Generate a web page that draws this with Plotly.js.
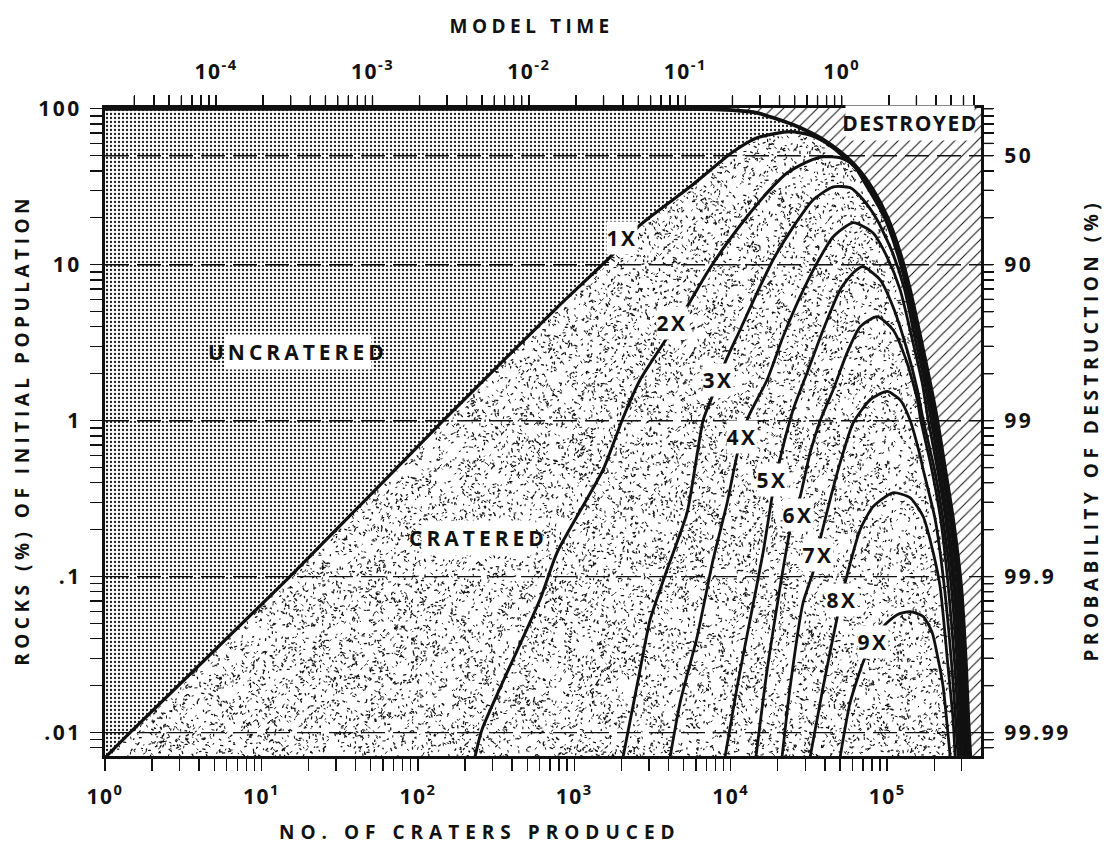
<!DOCTYPE html>
<html>
<head>
<meta charset="utf-8">
<script src="https://cdn.plot.ly/plotly-3.0.1.min.js"></script>
<style>
  html, body { margin: 0; padding: 0; background: #fff; }
  #chart { width: 1109px; height: 846px; }
  #chart .annotation-text { letter-spacing: 2.5px; }
  #chart .annotation[data-index="9"] .annotation-text,
  #chart .annotation[data-index="10"] .annotation-text { letter-spacing: 4px; }
  #chart .annotation[data-index="11"] .annotation-text { letter-spacing: 1.5px; }
  #chart .annotation[data-index="12"] .annotation-text,
  #chart .annotation[data-index="14"] .annotation-text,
  #chart .annotation[data-index="15"] .annotation-text { letter-spacing: 4.5px; }
  #chart .annotation[data-index="13"] .annotation-text { letter-spacing: 6px; }
  #chart .xtick text, #chart .x2tick text { letter-spacing: 1.5px; }
  #chart .ytick text, #chart .y2tick text { letter-spacing: 2.5px; }
</style>
</head>
<body>
<div id="chart"></div>
<script>
// Rocks surviving (% of initial population) vs number of craters produced.
// Top curve: surviving rocks. Curves 1X..9X: rocks carrying at least that many craters.

const survN   = [1, 3000, 7000, 10200, 14750, 18700, 25100, 30800, 39000, 50100, 64300, 81300,
                 100000, 121000, 140000, 163000, 188000, 209000, 235000, 264000, 297000, 320000, 330000, 340000];
const survPct = [100, 99.9, 99.5, 98, 94.2, 87.5, 78.9, 72, 63.5, 53.0, 41.9, 30.3,
                 20.3, 11.9, 6.92, 3.45, 1.75, 1.01, 0.485, 0.232, 0.0863, 0.0254, 0.0121, 0.0070];

const c1N   = [1.0, 1.445, 15.2, 145, 811, 1694, 2637, 5500, 10350, 14750, 24000, 32000, 39000, 45200,
               49000, 62900, 79600, 97800, 118000, 137000, 159000, 184000, 204000, 230000, 258000, 291000,
               313000, 323000, 333000];
const c1Pct = [0.0069, 0.01, 0.1, 1.0, 5.55, 11.2, 18.0, 31.6, 53, 65.2, 71.3, 68, 62, 56,
               52.5, 41.9, 30.3, 20.3, 11.9, 6.92, 3.45, 1.75, 1.01, 0.485, 0.232, 0.0863,
               0.0254, 0.0121, 0.0070];

const c2N   = [232, 257, 604, 776, 1528, 2051, 2637, 3920, 5260, 7060, 9490, 12700, 17100, 23000,
               30800, 39000, 50100, 60700, 71300, 95700, 116000, 134000, 156000, 180000, 198000,
               225000, 253000, 284000, 306000, 318000, 327000];
const c2Pct = [0.0070, 0.01045, 0.0713, 0.1426, 0.485, 1.045, 1.83, 3.40, 5.38, 8.89, 13.8, 20.3, 29.0, 38.9,
               45.7, 49.2, 48.5, 43.8, 34.0, 20.3, 11.9, 6.92, 3.45, 1.75, 1.01,
               0.485, 0.232, 0.0863, 0.0254, 0.0121, 0.0070];

const c3N   = [2051, 2637, 3053, 3920, 5260, 6670, 7710, 9200, 11490, 14750, 18700, 25100, 33700,
               45200, 58000, 70300, 86300, 108400, 129400, 150000, 174000, 191000, 217000, 244000,
               274000, 297000, 308000, 320000];
const c3Pct = [0.0070, 0.0254, 0.053, 0.111, 0.257, 1.01, 1.47, 2.36, 3.83, 6.62, 10.8, 17.5, 26.1,
               31.6, 31.2, 26.1, 19.4, 11.9, 6.92, 3.45, 1.75, 1.01, 0.485, 0.232,
               0.0863, 0.0254, 0.0121, 0.0070];

const c4N   = [4100, 4750, 6100, 7710, 9490, 10990, 12900, 17100, 21600, 27800, 35700, 45200, 60700,
               81300, 100000, 121000, 143500, 167500, 183000, 210000, 237000, 266000, 291000, 301000, 311000];
const c4Pct = [0.0070, 0.0156, 0.0412, 0.128, 0.298, 0.605, 1.045, 1.83, 3.45, 6.24, 10.3, 15.1, 18.6,
               16.0, 11.2, 6.92, 3.45, 1.75, 1.01, 0.485, 0.232, 0.0863, 0.0254, 0.0121, 0.0070];

const c5N   = [9200, 10990, 13300, 16100, 18400, 20400, 25100, 30800, 39000, 50100, 60700, 70300,
               90200, 109000, 134000, 156000, 170000, 201000, 228000, 257000, 282000, 293000, 301000];
const c5Pct = [0.0070, 0.0197, 0.053, 0.1426, 0.326, 0.538, 1.18, 2.03, 3.83, 6.92, 8.89, 9.71,
               8.0, 5.38, 2.85, 1.58, 1.01, 0.485, 0.232, 0.0863, 0.0254, 0.0121, 0.0070];

const c6N   = [14500, 17100, 20700, 24000, 27800, 32200, 37300, 45200, 55500, 67200, 86300, 109000,
               134000, 156000, 164000, 193000, 220000, 246000, 272000, 284000, 293000];
const c6Pct = [0.0070, 0.0254, 0.0863, 0.2, 0.326, 0.624, 1.0, 1.58, 2.73, 4.0, 4.65, 3.83,
               2.36, 1.36, 1.01, 0.485, 0.232, 0.0863, 0.0254, 0.0121, 0.0070];

const c7N   = [21300, 24000, 29000, 33700, 37300, 43200, 50100, 60700, 77800, 100000, 121000, 140000,
               163000, 170000, 203000, 232000, 260000, 274000, 284000];
const c7Pct = [0.0070, 0.0197, 0.068, 0.1077, 0.173, 0.312, 0.538, 0.97, 1.36, 1.54, 1.36, 1.01,
               0.587, 0.485, 0.232, 0.0863, 0.0254, 0.0121, 0.0070];

const c8N   = [32200, 39000, 47900, 53900, 67200, 81300, 109000, 140000, 170000, 197000, 218000,
               246000, 264000, 272000];
const c8Pct = [0.0070, 0.0197, 0.0546, 0.0916, 0.2, 0.281, 0.345, 0.321, 0.243, 0.1426, 0.0863,
               0.0254, 0.0121, 0.0070];

const c9N   = [50100, 58000, 72300, 97000, 116000, 140000, 170000, 194000, 212000, 228000, 246000, 253000];
const c9Pct = [0.0070, 0.0156, 0.0303, 0.0492, 0.057, 0.0597, 0.0555, 0.0438, 0.0294, 0.0197, 0.0094, 0.0070];

// Curve labels and region labels
const curveLabels   = ['1X', '2X', '3X', '4X', '5X', '6X', '7X', '8X', '9X'];
const curveLabelN   = [2020, 4220, 8300, 11800, 18400, 27000, 36200, 51500, 81300];
const curveLabelPct = [14.9, 4.25, 1.83, 0.789, 0.419, 0.25, 0.138, 0.0713, 0.0383];

const regionLabels   = ['UNCRATERED', 'CRATERED', 'DESTROYED'];
const regionLabelN   = [17.1, 243, 140000];
const regionLabelPct = [2.77, 0.178, 81];

// Axis ticks
const craterTicks     = [1, 10, 100, 1000, 1e4, 1e5];
const craterTickText  = ['10<sup>0</sup>', '10<sup>1</sup>', '10<sup>2</sup>', '10<sup>3</sup>', '10<sup>4</sup>', '10<sup>5</sup>'];
const timeTicks       = [1e-4, 1e-3, 1e-2, 1e-1, 1];
const timeTickText    = ['10<sup>-4</sup>', '10<sup>-3</sup>', '10<sup>-2</sup>', '10<sup>-1</sup>', '10<sup>0</sup>'];
const rockTicks       = [0.01, 0.1, 1, 10, 100];
const rockTickText    = ['.01', '.1', '1', '10', '100'];
const destructTicks   = [50, 10, 1, 0.1, 0.01];
const destructText    = ['50', '90', '99', '99.9', '99.99'];
const dashedLevels    = [50, 10, 1, 0.1, 0.01];

// Axis extents (log10) and model-time offset (log10 craters at model time 1)
const X_LOG_RANGE = [0, 5.6];
const Y_LOG_RANGE = [-2.15, 2.005];
const TIME_ONE_LOG_N = 4.71;

// Labelled ticks plus unlabelled 2..9 ticks of every decade inside [lo, hi]
function logTicks(major, majorText, fromExp, toExp, lo, hi) {
  const vals = [], text = [];
  for (let e = fromExp; e <= toExp; e++) {
    for (let d = 1; d <= 9; d++) {
      const v = d * Math.pow(10, e);
      if (v < lo || v > hi) continue;
      const k = major.findIndex(m => Math.abs(m - v) / v < 1e-9);
      vals.push(v);
      text.push(k >= 0 ? majorText[k] : '');
    }
  }
  major.forEach((m, k) => {
    if (!vals.some(v => Math.abs(m - v) / v < 1e-9)) { vals.push(m); text.push(majorText[k]); }
  });
  return { vals, text };
}

const xLo = Math.pow(10, X_LOG_RANGE[0]), xHi = Math.pow(10, X_LOG_RANGE[1]);
const yLo = Math.pow(10, Y_LOG_RANGE[0]), yHi = Math.pow(10, Y_LOG_RANGE[1]);
const tLo = Math.pow(10, X_LOG_RANGE[0] - TIME_ONE_LOG_N), tHi = Math.pow(10, X_LOG_RANGE[1] - TIME_ONE_LOG_N);
const timeScale = Math.pow(10, TIME_ONE_LOG_N);

const craterAxisTicks   = logTicks(craterTicks, craterTickText, 0, 5, xLo, xHi);
const timeAxisTicks     = logTicks(timeTicks, timeTickText, -5, 0, tLo * 1.2, tHi * 0.97);
const rockAxisTicks     = logTicks(rockTicks, rockTickText, -3, 2, yLo, yHi);
const destructAxisTicks = logTicks(destructTicks, destructText, -3, 2, yLo, yHi);

// Speckle texture for the cratered field (drawn under the opaque regions)
const PLOT_W = 876, PLOT_H = 648, TICK_LEN = 12;
function speckleTexture(w, h, count) {
  const cv = document.createElement('canvas');
  cv.width = w; cv.height = h;
  const g = cv.getContext('2d');
  g.fillStyle = '#fff';
  g.fillRect(0, 0, w, h);
  let s = 20240611 >>> 0;
  const next = () => { s = (Math.imul(s, 1664525) + 1013904223) >>> 0; return s / 4294967296; };
  g.strokeStyle = '#141414';
  g.lineCap = 'round';
  for (let pass = 0; pass < 2; pass++) {
    g.lineWidth = pass ? 1.3 : 1.0;
    g.beginPath();
    for (let i = 0; i < count / 2; i++) {
      const x = next() * w, y = next() * h, a = next() * Math.PI, l = 0.5 + next() * 2.0;
      g.moveTo(x, y);
      g.lineTo(x + Math.cos(a) * l, y + Math.sin(a) * l);
    }
    g.stroke();
  }
  return cv.toDataURL('image/png');
}

// Region polygons built from the curves
const farX = Math.pow(10, X_LOG_RANGE[1] + 1);
const farYLo = Math.pow(10, Y_LOG_RANGE[0] - 1);
const farYHi = Math.pow(10, Y_LOG_RANGE[1] + 1);

const destroyedX = survN.concat([farX, farX, survN[0]]);
const destroyedY = survPct.concat([farYLo, farYHi, farYHi]);

const uncrateredX = [], uncrateredY = [];
survN.forEach((n, i) => { if (n < 45000) { uncrateredX.push(n); uncrateredY.push(survPct[i]); } });
for (let i = c1N.length - 1; i >= 0; i--) {
  if (c1N[i] <= 45200) { uncrateredX.push(c1N[i]); uncrateredY.push(c1Pct[i]); }
}

const INK = '#111';
const traces = [
  {
    x: destroyedX, y: destroyedY, mode: 'lines', fill: 'toself', line: { width: 0 },
    fillcolor: 'white',
    fillpattern: { shape: '/', size: 8, solidity: 0.13, fgcolor: INK, bgcolor: 'white' },
    hoverinfo: 'skip', showlegend: false
  },
  {
    x: uncrateredX, y: uncrateredY, mode: 'lines', fill: 'toself',
    line: { width: 0, shape: 'spline', smoothing: 0.6 },
    fillcolor: 'white',
    fillpattern: { shape: '.', size: 4, solidity: 0.26, fgcolor: '#1a1a1a', bgcolor: 'white' },
    hoverinfo: 'skip', showlegend: false
  }
];

const curveSet = [
  [c9N, c9Pct, 2.8], [c8N, c8Pct, 2.8], [c7N, c7Pct, 2.8], [c6N, c6Pct, 2.8], [c5N, c5Pct, 2.8],
  [c4N, c4Pct, 2.8], [c3N, c3Pct, 2.9], [c2N, c2Pct, 3.0], [c1N, c1Pct, 3.2], [survN, survPct, 3.8]
];
curveSet.forEach(([xs, ys, w]) => {
  traces.push({
    x: xs, y: ys, mode: 'lines',
    line: { color: INK, width: w, shape: 'spline', smoothing: 0.6 },
    hoverinfo: 'skip', showlegend: false
  });
});

// Same survival curve against model time (top axis) and destruction probability (right axis)
traces.push({
  x: survN.map(n => n / timeScale), y: survPct, xaxis: 'x2', yaxis: 'y2',
  mode: 'lines', line: { width: 0 }, opacity: 0, hoverinfo: 'skip', showlegend: false
});

const FONT = 'Open Sans, Liberation Sans, sans-serif';
const tickFont = { family: FONT, size: 21, color: INK, weight: 700 };

const annotations = [];
curveLabels.forEach((t, i) => {
  annotations.push({
    x: Math.log10(curveLabelN[i]), y: Math.log10(curveLabelPct[i]), xref: 'x', yref: 'y',
    xanchor: 'center', yanchor: 'middle',
    text: t, showarrow: false, bgcolor: 'white', borderpad: 2,
    font: { family: FONT, size: 21, color: INK, weight: 700 }
  });
});
regionLabels.forEach((t, i) => {
  annotations.push({
    x: Math.log10(regionLabelN[i]), y: Math.log10(regionLabelPct[i]), xref: 'x', yref: 'y',
    xanchor: 'center', yanchor: 'middle',
    text: t, showarrow: false, bgcolor: 'white', borderpad: 3,
    font: { family: FONT, size: 21, color: INK, weight: 700 }
  });
});

const titleFont = { family: FONT, size: 19, color: INK, weight: 700 };
const titleBase = { xref: 'paper', yref: 'paper', showarrow: false, xanchor: 'center', yanchor: 'middle', font: titleFont };
annotations.push(
  Object.assign({ text: 'MODEL TIME', x: 0.4874, y: 1.1265 }, titleBase),
  Object.assign({ text: 'NO. OF CRATERS PRODUCED', x: 0.428, y: -0.117 }, titleBase),
  Object.assign({ text: 'ROCKS (%) OF INITIAL POPULATION', x: -0.0947, y: 0.503, textangle: -90 }, titleBase),
  Object.assign({ text: 'PROBABILITY OF DESTRUCTION (%)', x: 1.1256, y: 0.503, textangle: -90 }, titleBase)
);

// Dashed reference levels across the plot
const shapes = dashedLevels.map(v => ({
  type: 'line', xref: 'paper', yref: 'y', x0: 0, x1: 1, y0: v, y1: v, layer: 'above',
  line: { color: INK, width: 1.4, dash: '24px,8px' }
}));

// Tick marks of the model-time (top) and destruction (right) scales, placed from their tick values
timeAxisTicks.vals.forEach(v => shapes.push({
  type: 'line', xref: 'x2', yref: 'paper', x0: v, x1: v, y0: 1, y1: 1 + TICK_LEN / PLOT_H, layer: 'above',
  line: { color: INK, width: 1.4 }
}));
destructAxisTicks.vals.forEach(v => shapes.push({
  type: 'line', xref: 'paper', yref: 'y', x0: 1, x1: 1 + TICK_LEN / PLOT_W, y0: v, y1: v, layer: 'above',
  line: { color: INK, width: 1.4 }
}));

const tickStyle = { ticks: 'outside', ticklen: TICK_LEN, tickwidth: 1.4, tickcolor: INK, tickmode: 'array',
                    tickfont: tickFont, showgrid: false, zeroline: false };

const layout = {
  width: 1109, height: 846,
  margin: { l: 105, r: 128, t: 108, b: 90, autoexpand: false },
  paper_bgcolor: 'white',
  plot_bgcolor: 'rgba(0,0,0,0)',
  font: { family: FONT, color: INK },
  showlegend: false,
  xaxis: Object.assign({
    type: 'log', range: X_LOG_RANGE, domain: [0, 1], anchor: 'y', side: 'bottom',
    tickvals: craterAxisTicks.vals, ticktext: craterAxisTicks.text, ticklabelstandoff: 8,
    showline: true, linecolor: INK, linewidth: 3, mirror: true
  }, tickStyle),
  yaxis: Object.assign({
    type: 'log', range: Y_LOG_RANGE, domain: [0, 1], anchor: 'x', side: 'left',
    tickvals: rockAxisTicks.vals, ticktext: rockAxisTicks.text, ticklabelstandoff: 4,
    showline: true, linecolor: INK, linewidth: 3, mirror: true
  }, tickStyle),
  xaxis2: Object.assign({
    type: 'log', range: [X_LOG_RANGE[0] - TIME_ONE_LOG_N, X_LOG_RANGE[1] - TIME_ONE_LOG_N],
    domain: [0, 1], anchor: 'y2', side: 'top',
    tickvals: timeAxisTicks.vals, ticktext: timeAxisTicks.text, ticklabelstandoff: 8, showline: false
  }, tickStyle),
  yaxis2: Object.assign({
    type: 'log', range: Y_LOG_RANGE, domain: [0, 1], anchor: 'x2', side: 'right',
    tickvals: destructAxisTicks.vals, ticktext: destructAxisTicks.text, ticklabelstandoff: 6, showline: false
  }, tickStyle),
  images: [{
    source: speckleTexture(PLOT_W, PLOT_H, 26000),
    xref: 'paper', yref: 'paper', x: 0, y: 1, sizex: 1, sizey: 1,
    xanchor: 'left', yanchor: 'top', sizing: 'stretch', layer: 'below'
  }],
  shapes: shapes,
  annotations: annotations
};

Plotly.newPlot('chart', traces, layout, { displayModeBar: false, staticPlot: true });
</script>
</body>
</html>
